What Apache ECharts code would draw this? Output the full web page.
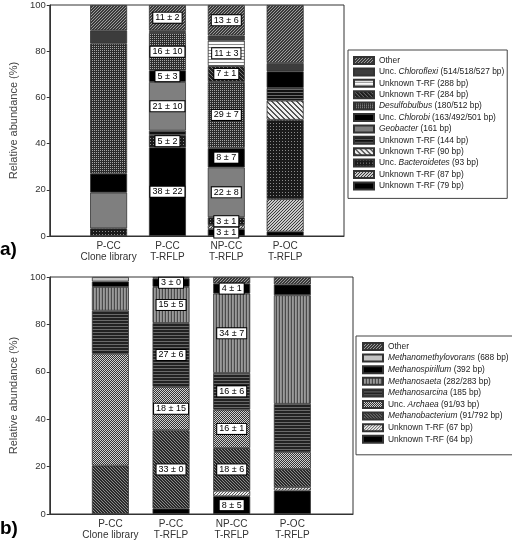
<!DOCTYPE html>
<html><head><meta charset="utf-8">
<script src="https://cdn.jsdelivr.net/npm/echarts@6/dist/echarts.min.js"></script>
<style>html,body{margin:0;padding:0;background:#fff}#c{width:512px;height:540px}</style>
</head><body><div id="c"></div>
<script>
// ---------- DATA ----------
const categories = ['P-CC\nClone library', 'P-CC\nT-RFLP', 'NP-CC\nT-RFLP', 'P-OC\nT-RFLP'];
const yTicks = [0, 20, 40, 60, 80, 100];

// (a) bacteria, stack order bottom -> top
const aNames = ['Unknown T-RF (79 bp)', 'Unknown T-RF (87 bp)', 'Unc. Bacteroidetes (93 bp)', 'Unknown T-RF (90 bp)',
  'Unknown T-RF (144 bp)', 'Geobacter (161 bp)', 'Unc. Chlorobi (163/492/501 bp)', 'Desulfobulbus (180/512 bp)',
  'Unknown T-RF (284 bp)', 'Unknown T-RF (288 bp)', 'Unc. Chloroflexi (514/518/527 bp)', 'Other'];
const a79 = [0, 38.4, 3.0, 1.9];
const a87 = [0, 0, 1.7, 14.1];
const aBact = [3.3, 5.3, 3.4, 34.3];
const a90 = [0, 0, 0, 8.3];
const a144 = [0, 1.9, 0, 5.5];
const aGeo = [15.5, 21.1, 21.6, 0];
const aChlorobi = [8.2, 5.0, 8.4, 7.2];
const aDesulf = [56.3, 16.2, 28.6, 0];
const a284 = [0, 0, 6.9, 0];
const a288 = [0, 0.5, 11.0, 0];
const aChlorofl = [5.7, 0.6, 2.2, 3.6];
const aOther = [11.0, 11.0, 13.2, 25.1];
const aLab79 = ['', '38 ± 22', '3 ± 1', ''];
const aLabBact = ['', '5 ± 2', '3 ± 1', ''];
const aLabGeo = ['', '21 ± 10', '22 ± 8', ''];
const aLabChlorobi = ['', '5 ± 3', '8 ± 7', ''];
const aLabDesulf = ['', '16 ± 10', '29 ± 7', ''];
const aLab284 = ['', '', '7 ± 1', ''];
const aLab288 = ['', '', '11 ± 3', ''];
const aLabOther = ['', '11 ± 2', '13 ± 6', ''];

// (b) archaea, stack order bottom -> top
const bNames = ['Unknown T-RF (64 bp)', 'Unknown T-RF (67 bp)', 'Methanobacterium (91/792 bp)', 'Unc. Archaea (91/93 bp)',
  'Methanosarcina (185 bp)', 'Methanosaeta (282/283 bp)', 'Methanospirillum (392 bp)', 'Methanomethylovorans (688 bp)', 'Other'];
const b64 = [0, 2.3, 7.5, 9.9];
const b67 = [0, 0, 2.3, 1.4];
const bMbact = [20.4, 33.0, 18.0, 7.7];
const bArch = [47.2, 18.3, 16.2, 7.2];
const bMsarc = [18.2, 27.0, 15.5, 20.3];
const bMsaeta = [10.0, 15.2, 33.5, 45.8];
const bMspir = [2.3, 3.5, 4.2, 4.5];
const bMmethyl = [1.9, 0, 0, 0];
const bOther = [0, 0.7, 2.8, 3.2];
const bLab64 = ['', '', '8 ± 5', ''];
const bLabMbact = ['', '33 ± 0', '18 ± 6', ''];
const bLabArch = ['', '18 ± 15', '16 ± 1', ''];
const bLabMsarc = ['', '27 ± 6', '16 ± 6', ''];
const bLabMsaeta = ['', '15 ± 5', '34 ± 7', ''];
const bLabMspir = ['', '3 ± 0', '4 ± 1', ''];

const italicWords = ['Chloroflexi', 'Desulfobulbus', 'Chlorobi', 'Geobacter', 'Bacteroidetes',
  'Methanomethylovorans', 'Methanospirillum', 'Methanosaeta', 'Methanosarcina', 'Archaea', 'Methanobacterium'];

// ---------- PATTERNS ----------
function pat(w, h, fn) {
  const c = document.createElement('canvas'); c.width = w; c.height = h;
  const g = c.getContext('2d'); fn(g); return { image: c, repeat: 'repeat' };
}
function diag(s, bg, fg, dir, thick) {
  return pat(s, s, g => {
    g.fillStyle = bg; g.fillRect(0, 0, s, s); g.fillStyle = fg;
    for (let y = 0; y < s; y++) for (let x = 0; x < s; x++) {
      const k = dir > 0 ? (x + y) % s : (((x - y) % s) + s) % s;
      if (k < thick) g.fillRect(x, y, 1, 1);
    }
  });
}
function rows(cols) { return pat(1, cols.length, g => cols.forEach((c, i) => { g.fillStyle = c; g.fillRect(0, i, 1, 1); })); }
function colsP(cols) { return pat(cols.length, 1, g => cols.forEach((c, i) => { g.fillStyle = c; g.fillRect(i, 0, 1, 1); })); }
function dots(s, bg, fg, pts) {
  return pat(s, s, g => { g.fillStyle = bg; g.fillRect(0, 0, s, s); g.fillStyle = fg; pts.forEach(p => g.fillRect(p[0], p[1], 1, 1)); });
}
const P = {
  other: diag(3, '#3a3a3a', '#9c9c9c', 1, 1),
  chlorofl: '#3c3c3c',
  r288: rows(['#fafafa', '#fafafa', '#8a8a8a']),
  r284: diag(4, '#1e1e1e', '#777', -1, 1),
  desulf: dots(2, '#2c2c2c', '#a8a8a8', [[0, 0]]),
  black: '#000',
  geo: '#7f7f7f',
  r144: rows(['#111', '#111', '#6a6a6a']),
  r90: diag(5, '#f0f0f0', '#555', -1, 2),
  bact: dots(3, '#1a1a1a', '#8a8a8a', [[0, 0]]),
  r87: diag(3, '#c8c8c8', '#3a3a3a', 1, 1),
  mmethyl: '#c4c4c4',
  msaeta: colsP(['#4a4a4a', '#9a9a9a', '#8a8a8a']),
  msarc: rows(['#222', '#222', '#6a6a6a']),
  arch: dots(2, '#333', '#d0d0d0', [[0, 0], [1, 1]]),
  mbact: diag(3, '#2a2a2a', '#8a8a8a', -1, 1),
  r67: diag(3, '#eeeeee', '#555', 1, 1)
};

const aVals = [a79, a87, aBact, a90, a144, aGeo, aChlorobi, aDesulf, a284, a288, aChlorofl, aOther];
const aLabs = [aLab79, null, aLabBact, null, null, aLabGeo, aLabChlorobi, aLabDesulf, aLab284, aLab288, null, aLabOther];
const aFill = [P.black, P.r87, P.bact, P.r90, P.r144, P.geo, P.black, P.desulf, P.r284, P.r288, P.chlorofl, P.other];
const bVals = [b64, b67, bMbact, bArch, bMsarc, bMsaeta, bMspir, bMmethyl, bOther];
const bLabs = [bLab64, null, bLabMbact, bLabArch, bLabMsarc, bLabMsaeta, bLabMspir, null, null];
const bFill = [P.black, P.r67, P.mbact, P.arch, P.msarc, P.msaeta, P.black, P.mmethyl, P.other];

const FONT = 'Liberation Sans, Arial, sans-serif';
const labelStyle = {
  position: 'inside', fontSize: 9, fontFamily: FONT, color: '#000',
  backgroundColor: '#fff', borderColor: '#000', borderWidth: 1, padding: [1, 2, 0, 2], lineHeight: 9
};

function buildSeries(names, vals, labs, fills, idx, stack) {
  return names.map((n, i) => ({
    name: n, type: 'bar', stack: stack, xAxisIndex: idx, yAxisIndex: idx, barWidth: 37,
    itemStyle: { color: fills[i], borderColor: '#333', borderWidth: 0.8 },
    label: labelStyle,
    data: ['-'].concat(vals[i].map((v, j) => ({
      value: v > 0 ? v : '-',
      label: { show: !!(labs[i] && labs[i][j]), formatter: () => (labs[i] ? labs[i][j] : '') }
    }))).concat(['-'])
  }));
}

const xCats = [''].concat(categories).concat(['']);
function xAxis(gi) {
  return {
    type: 'category', gridIndex: gi, data: xCats, boundaryGap: false,
    axisLine: { lineStyle: { color: '#333', width: 1 } }, axisTick: { show: false },
    axisLabel: { interval: 0, fontSize: 10, fontFamily: FONT, color: '#333', lineHeight: 10.5, margin: 5 }
  };
}
function yAxis(gi) {
  return {
    type: 'value', gridIndex: gi, min: yTicks[0], max: yTicks[yTicks.length - 1], interval: yTicks[1] - yTicks[0],
    name: 'Relative abundance (%)', nameLocation: 'middle', nameGap: 25, nameRotate: 90,
    nameTextStyle: { fontSize: 11, fontFamily: FONT, color: '#444' },
    axisLine: { show: true, lineStyle: { color: '#333' } },
    axisTick: { show: true, length: 3, lineStyle: { color: '#333' } },
    axisLabel: { fontSize: 9.5, fontFamily: FONT, color: '#333', margin: 4 },
    splitLine: { show: false }
  };
}
function italicize(name) {
  let s = name;
  italicWords.forEach(w => { s = s.replace(w, '{i|' + w + '}'); });
  return s;
}
const LF = 8.4;
const legendText = { fontSize: LF, fontFamily: FONT, color: '#222', lineHeight: 11,
  rich: { i: { fontStyle: 'italic', fontSize: LF, fontFamily: FONT, color: '#222' } } };

const chart = echarts.init(document.getElementById('c'), null, { renderer: 'canvas' });
chart.setOption({
  animation: false,
  backgroundColor: '#fff',
  grid: [
    { left: 37, top: 4, width: 307, height: 232, show: true, borderColor: '#333', borderWidth: 1 },
    { left: 45, top: 277, width: 308, height: 237, show: true, borderColor: '#333', borderWidth: 1 }
  ],
  xAxis: [xAxis(0), xAxis(1)],
  yAxis: [yAxis(0), yAxis(1)],
  legend: [
    { orient: 'vertical', left: 348, top: 50, data: aNames.slice().reverse(), icon: 'rect', itemWidth: 20, itemHeight: 7,
      itemGap: 0.4, padding: [5, 3, 7, 5], backgroundColor: '#fff', borderColor: '#444', borderWidth: 1,
      textStyle: legendText, formatter: italicize, selectedMode: false },
    { orient: 'vertical', left: 356, top: 336, data: bNames.slice().reverse(), icon: 'rect', itemWidth: 20, itemHeight: 7,
      itemGap: 0.6, padding: [5, 8, 10, 6], backgroundColor: '#fff', borderColor: '#444', borderWidth: 1,
      textStyle: legendText, formatter: italicize, selectedMode: false }
  ],
  graphic: [
    { type: 'text', left: 0, top: 240, style: { text: 'a)', font: 'bold 19px ' + FONT, fill: '#000' } },
    { type: 'text', left: 0, top: 519, style: { text: 'b)', font: 'bold 19px ' + FONT, fill: '#000' } }
  ],
  series: buildSeries(aNames, aVals, aLabs, aFill, 0, 'a').concat(buildSeries(bNames, bVals, bLabs, bFill, 1, 'b'))
});
</script></body></html>
